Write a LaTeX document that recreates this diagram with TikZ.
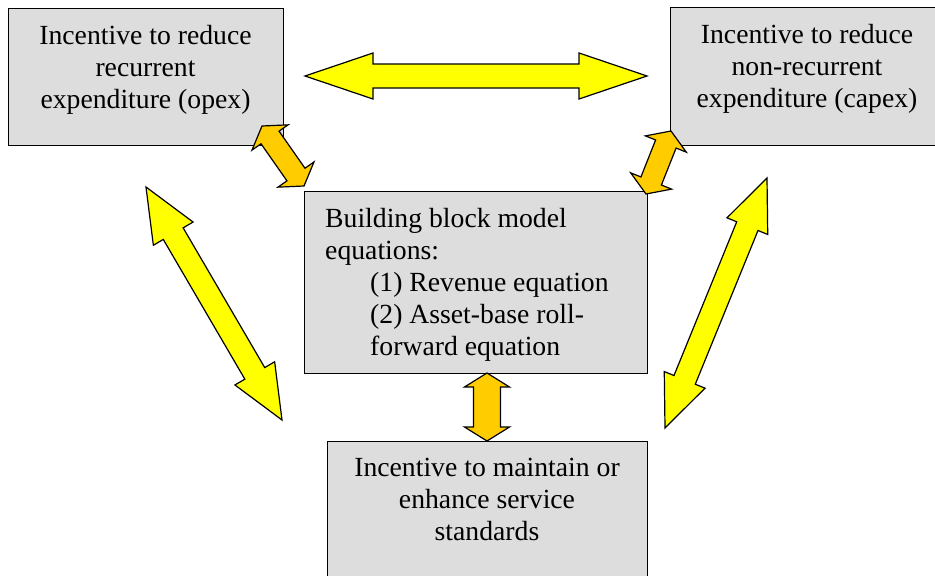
\documentclass[tikz,border=0pt]{standalone}
\usepackage{fontspec}
\setmainfont{Liberation Serif}
\usetikzlibrary{calc}
\definecolor{boxgray}{HTML}{DDDDDD}
\definecolor{ayellow}{HTML}{FFFF00}
\definecolor{aorange}{HTML}{FFCC00}
\newcommand\fatarrow[6]{%
\coordinate (ha) at ($(#1)!#6!(#2)$);
\coordinate (hb) at ($(#2)!#6!(#1)$);
\draw[fat,fill=#3] (#1)--($(ha)!#5!90:(#2)$)--($(ha)!#4!90:(#2)$)--($(hb)!#4!90:(#2)$)--($(hb)!#5!90:(#2)$)--(#2)
 --($(hb)!#5!-90:(#2)$)--($(hb)!#4!-90:(#2)$)--($(ha)!#4!-90:(#2)$)--($(ha)!#5!-90:(#2)$)--cycle;}

\begin{document}
\begin{tikzpicture}[x=1pt,y=-1pt,
  box/.style={draw,line width=1.2pt,fill=boxgray,anchor=north west,inner sep=0pt},
  txt/.style={inner sep=0pt,anchor=north,align=center,font=\fontsize{27.7pt}{32pt}\selectfont},
  fat/.style={line width=1.2pt,line join=miter}]
\clip (0,0) rectangle (935,576);
\node[box,minimum width=275pt,minimum height=137pt] (opex) at (8,8) {};
\node[box,minimum width=275pt,minimum height=138pt] (capex) at (670,7) {};
\node[box,minimum width=343pt,minimum height=182pt] (bbm) at (304,191) {};
\node[box,minimum width=320pt,minimum height=200pt] (serv) at (327,441) {};
\node[txt] (opextxt) at (145.5,25) {Incentive to reduce\\recurrent\\expenditure (opex)};
\node[txt] (capextxt) at (807,24) {Incentive to reduce\\non-recurrent\\expenditure (capex)};
\node[txt,anchor=north west,align=left] (bbmtxt) at (325,208) {Building block model\\equations:\\\hspace*{45pt}(1) Revenue equation\\\hspace*{45pt}(2) Asset-base roll-\\\hspace*{45pt}forward equation};
\node[txt] (servtxt) at (487,458) {Incentive to maintain or\\enhance service\\standards};
\coordinate (t1) at (305,76);
\coordinate (t2) at (647,76);
\coordinate (o1) at (262,126);
\coordinate (o2) at (304,186);
\coordinate (c1) at (671,131);
\coordinate (c2) at (646,194);
\coordinate (s1) at (487,373);
\coordinate (s2) at (487,441);
\coordinate (l1) at (146,187);
\coordinate (l2) at (282,420);
\coordinate (r1) at (767,178);
\coordinate (r2) at (665,428);
\fatarrow{t1}{t2}{ayellow}{12pt}{23pt}{68pt}
\fatarrow{l1}{l2}{ayellow}{11.5pt}{23pt}{54pt}
\fatarrow{r1}{r2}{ayellow}{11.5pt}{22pt}{52pt}
\fatarrow{o1}{o2}{aorange}{11pt}{22pt}{14pt}
\fatarrow{c1}{c2}{aorange}{11pt}{22pt}{14pt}
\fatarrow{s1}{s2}{aorange}{13.5pt}{22.5pt}{14pt}
\end{tikzpicture}
\end{document}
